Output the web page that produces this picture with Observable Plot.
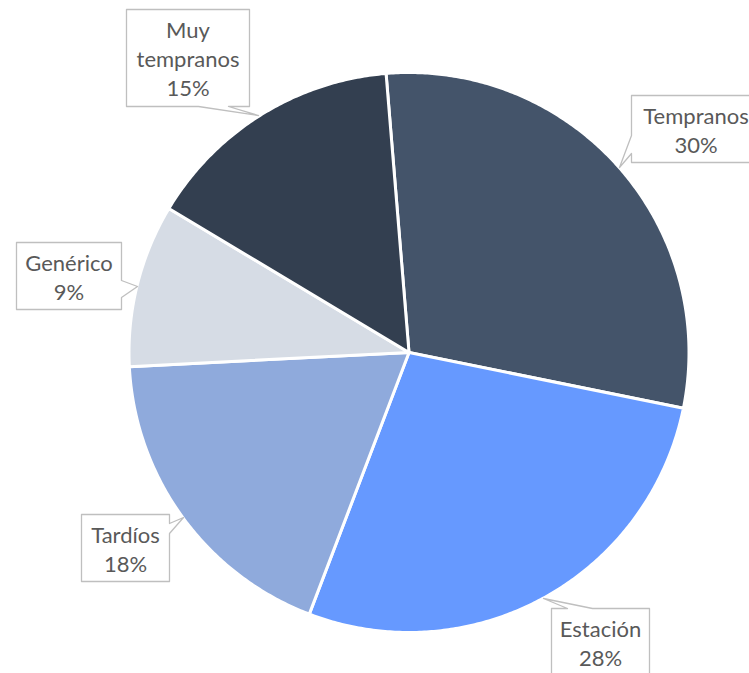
<!DOCTYPE html>
<html><head><meta charset="utf-8">
<script src="https://cdn.jsdelivr.net/npm/d3@7"></script>
<script src="https://cdn.jsdelivr.net/npm/@observablehq/plot@0.6"></script>
<style>html,body{margin:0;padding:0;background:#fff;overflow:hidden}</style>
</head><body><div id="chart"></div>
<script>
// ---- data ----
const categories = ["Tempranos", "Estación", "Tardíos", "Genérico", "Muy tempranos"];
const shares = [29.5, 27.6, 18.4, 9.4, 15.1];
const labelNames = ["Tempranos", "Estación", "Tardíos", "Genérico", "Muy\ntempranos"];
const colors = ["#44546A", "#6699FF", "#8FAADC", "#D6DCE5", "#333F50"];

// ---- layout ----
const W = 749, H = 673, cx = 408.5, cy = 352, R = 280, startDeg = -4.7;
const calloutLayout = [
  {box: [631, 95, 760, 162], edge: "left", a: 153, b: 135, tip: [619, 167]},
  {box: [551, 608, 649, 690], edge: "top", a: 567, b: 592, tip: [543, 598]},
  {box: [81, 514, 169, 581], edge: "right", a: 523, b: 533, tip: [183, 517]},
  {box: [16, 242, 121, 309], edge: "right", a: 280, b: 297, tip: [137, 286]},
  {box: [126, 9, 249, 106], edge: "bottom", a: 228, b: 198, tip: [258, 115]}
];

// ---- build slices ----
const total = d3.sum(shares);
const slicePts = [];
let acc = startDeg;
categories.forEach((name, i) => {
  const a0 = acc, a1 = acc + shares[i] / total * 360;
  acc = a1;
  slicePts.push({name, x: cx, y: cy});
  const n = Math.ceil((a1 - a0) / 0.5);
  for (let k = 0; k <= n; k++) {
    const t = (a0 + (a1 - a0) * k / n) * Math.PI / 180;
    slicePts.push({name, x: cx + R * Math.sin(t), y: cy - R * Math.cos(t)});
  }
});

// ---- build callouts ----
const calloutPts = [];
const labels = [];
categories.forEach((name, i) => {
  const c = calloutLayout[i];
  const [x0, y0, x1, y1] = c.box;
  const pts = [];
  const wedge = (p, q) => { pts.push(p, c.tip, q); };
  pts.push([x0, y0]);
  if (c.edge === "top") wedge([c.a, y0], [c.b, y0]);
  pts.push([x1, y0]);
  if (c.edge === "right") wedge([x1, c.a], [x1, c.b]);
  pts.push([x1, y1]);
  if (c.edge === "bottom") wedge([c.a, y1], [c.b, y1]);
  pts.push([x0, y1]);
  if (c.edge === "left") wedge([x0, c.a], [x0, c.b]);
  pts.forEach(([x, y]) => calloutPts.push({name, x, y}));
  labels.push({
    name,
    x: (x0 + x1) / 2,
    y: (y0 + y1) / 2,
    text: labelNames[i] + "\n" + Math.round(shares[i] / total * 100) + "%"
  });
});
// Estación box is cut at bottom; its text centre follows the visible lines
labels[1].y = 642;

const chart = Plot.plot({
  width: W, height: H, margin: 0,
  x: {domain: [0, W], range: [0, W], axis: null},
  y: {domain: [0, H], range: [0, H], axis: null},
  color: {domain: categories, range: colors},
  style: {background: "white"},
  marks: [
    Plot.line(slicePts, {x: "x", y: "y", z: "name", fill: "name", stroke: "white", strokeWidth: 3, curve: "linear-closed", strokeLinejoin: "round"}),
    Plot.line(calloutPts, {x: "x", y: "y", z: "name", fill: "white", stroke: "#BFBFBF", strokeWidth: 1.3, curve: "linear-closed"}),
    Plot.text(labels, {x: "x", y: "y", text: "text", fontSize: 22, fill: "#595959", fontFamily: "Lato", lineHeight: 1.32, lineAnchor: "middle", textAnchor: "middle"})
  ]
});
document.getElementById("chart").appendChild(chart);
</script>
</body></html>
